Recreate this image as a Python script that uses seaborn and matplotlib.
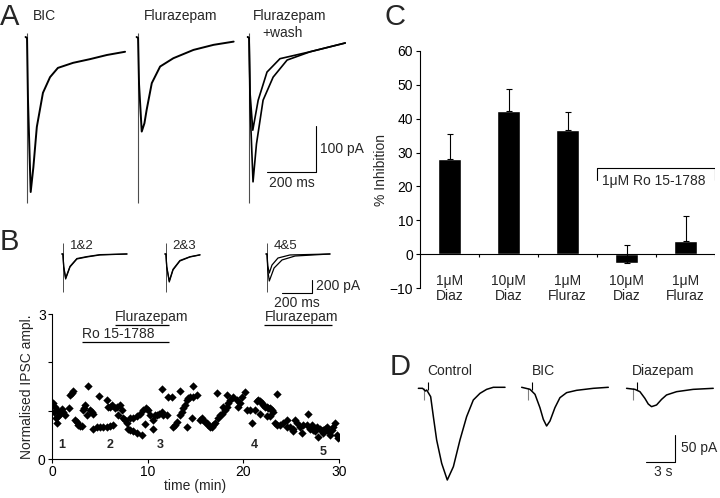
import numpy as np
import pandas as pd
import matplotlib
matplotlib.use("Agg")
import matplotlib.pyplot as plt
import seaborn as sns

sns.set_theme(style="ticks")
plt.rcParams["font.family"] = ["Liberation Sans", "DejaVu Sans"]
plt.rcParams["axes.edgecolor"] = "black"
plt.rcParams["xtick.color"] = "black"
plt.rcParams["ytick.color"] = "black"

# ─── Panel A: evoked IPSCs (time in ms, current in pA) ───────────────────────
A_BIC_T   = [-6, 0, 4, 15, 26, 40, 65, 94, 126, 188, 257, 326, 400]
A_BIC_I   = [2, 0, -135, -334, -280, -193, -119, -85, -65, -54, -46, -37, -30]
A_FLU_T   = [-6, 0, 4, 15, 26, 35, 56, 90, 144, 226, 308, 390]
A_FLU_I   = [2, 0, -100, -203, -185, -156, -98, -62, -44, -26, -15, -8]
A_WASH_T  = [-6, 0, 4, 16, 30, 57, 98, 155, 249, 392]
A_WASH_I  = [2, 0, -150, -312, -230, -135, -85, -48, -30, -11]
A_FLU2_T  = [-6, 0, 4, 15, 37, 73, 126, 249, 392]
A_FLU2_I  = [2, 0, -120, -200, -135, -74, -45, -30, -11]
A_TITLES  = ["BIC", "Flurazepam", "Flurazepam"]

# ─── Panel B: example traces (ms, pA) and time course ────────────────────────
B12_T  = [-7, 0, 5, 18, 47, 93, 160, 247, 427]
B12_I  = [0, 0, -200, -385, -200, -77, -46, -15, 0]
B12B_I = [0, 0, -190, -370, -190, -70, -40, -10, 0]
B23_T  = [-7, 0, 5, 22, 47, 93, 160, 227]
B23_I  = [0, 0, -200, -431, -246, -108, -46, -15]
B23B_I = [0, 0, -190, -415, -235, -100, -42, -12]
B45_T  = [-7, 0, 5, 15, 47, 100, 187, 420]
B45_I  = [0, 0, -250, -416, -216, -92, -31, 0]
B45B_T = [-7, 0, 5, 15, 33, 73, 153, 420]
B45B_I = [0, 0, -180, -293, -170, -62, -15, 0]
B_TRACE_LABELS = ["1&2", "2&3", "4&5"]

B_TIME = [0.14, 0.31, 0.21, 0.49, 0.66, 0.84, 1.01, 1.18, 1.36, 0.42,
          0.56, 1.88, 2.06, 2.23, 1.81, 2.40, 2.58, 2.75, 2.93, 3.10,
          3.21, 3.34, 3.45, 3.62, 3.80, 3.97, 4.15, 4.32, 4.32, 4.67,
          5.02, 5.37, 5.71, 6.06, 6.41, 4.95, 5.71, 5.89, 6.06, 6.24,
          6.59, 6.76, 7.11, 6.93, 7.28, 7.46, 7.63, 7.80, 7.98, 8.15,
          8.50, 8.85, 9.37, 8.15, 8.50, 8.85, 9.20, 9.55, 9.83, 10.07,
          10.24, 10.59, 10.77, 10.94, 11.22, 11.46, 11.64, 11.99, 9.72, 10.59,
          11.46, 12.16, 12.51, 12.68, 12.86, 13.03, 13.38, 13.55, 13.73, 13.90,
          14.08, 14.25, 14.43, 14.77, 15.12, 14.70, 13.38, 14.08, 14.60, 15.47,
          15.64, 15.82, 15.99, 16.17, 16.34, 16.52, 16.69, 16.86, 17.04, 17.39,
          17.56, 17.74, 17.91, 18.08, 18.26, 18.43, 18.61, 18.95, 19.30, 19.48,
          19.65, 19.83, 20.17, 20.35, 20.70, 21.22, 20.87, 17.21, 18.26, 21.39,
          21.57, 21.74, 21.92, 22.09, 22.26, 22.44, 22.61, 22.79, 22.96, 23.14,
          23.48, 21.74, 22.44, 22.79, 23.31, 23.48, 23.83, 24.18, 24.53, 24.88,
          25.23, 25.40, 25.57, 25.92, 26.27, 26.62, 26.79, 26.97, 27.32, 27.49,
          27.67, 28.01, 28.19, 28.36, 28.54, 28.71, 28.89, 29.06, 29.23, 29.41,
          29.58, 29.76, 29.93, 24.53, 25.23, 26.10, 27.14, 27.84, 28.36]
B_AMPL = [1.15, 1.08, 0.98, 1.01, 0.88, 0.93, 1.03, 0.98, 0.91, 0.84,
          0.74, 1.32, 1.37, 1.41, 1.05, 0.81, 0.77, 0.70, 0.68, 0.68,
          1.01, 1.05, 1.12, 0.91, 1.51, 1.01, 0.98, 0.94, 0.63, 0.66,
          0.67, 0.67, 0.67, 0.68, 0.70, 1.31, 1.22, 1.08, 1.08, 1.12,
          1.05, 1.08, 1.12, 0.91, 1.01, 0.84, 0.81, 0.74, 0.63, 0.61,
          0.57, 0.53, 0.50, 0.84, 0.84, 0.88, 0.94, 1.01, 1.05, 1.01,
          0.91, 0.81, 0.91, 0.91, 0.94, 0.98, 0.91, 0.91, 0.72, 0.63,
          1.44, 1.29, 1.29, 0.67, 0.70, 0.77, 0.91, 0.98, 1.05, 1.12,
          1.22, 1.26, 1.29, 1.29, 1.32, 1.51, 1.41, 0.67, 0.84, 0.81,
          0.84, 0.81, 0.77, 0.74, 0.70, 0.67, 0.67, 0.70, 0.74, 0.84,
          0.91, 0.94, 1.08, 1.01, 1.08, 1.15, 1.22, 1.29, 1.22, 1.08,
          1.15, 1.29, 1.39, 1.01, 1.01, 1.01, 0.74, 1.36, 1.32, 1.19,
          1.22, 1.19, 1.15, 1.12, 1.08, 1.08, 1.05, 1.05, 1.01, 0.98,
          1.34, 0.94, 0.88, 0.88, 0.74, 0.70, 0.70, 0.74, 0.67, 0.67,
          0.63, 0.81, 0.74, 0.67, 0.70, 0.70, 0.94, 0.63, 0.60, 0.57,
          0.67, 0.63, 0.57, 0.53, 0.63, 0.67, 0.57, 0.50, 0.60, 0.67,
          0.74, 0.50, 0.43, 0.81, 0.57, 0.53, 0.70, 0.46, 0.60]
B_SAMPLE_T = [1.0, 6.1, 11.3, 21.1, 28.3]
B_SAMPLE_Y = [0.30, 0.30, 0.30, 0.30, 0.14]
B_DRUGS    = [("Flurazepam", 6.6, 12.2, 2.78),
              ("Ro 15-1788", 3.1, 12.2, 2.42),
              ("Flurazepam", 22.2, 29.3, 2.78)]

# ─── Panel C: % inhibition ───────────────────────────────────────────────────
C_LABELS = ["1μM\nDiaz", "10μM\nDiaz", "1μM\nFluraz", "10μM\nDiaz", "1μM\nFluraz"]
C_MEAN   = [28.2, 42.1, 36.7, -2.5, 3.9]
C_SEM    = [7.2, 6.5, 5.1, 5.2, 7.5]

# ─── Panel D: slow IPSCs (s, pA) ─────────────────────────────────────────────
D_CTRL_T = [-1.03, -0.6, -0.3, -0.17, 0.24, 0.52, 0.86, 1.38, 1.96, 2.59,
            3.27, 3.96, 4.65, 5.34, 6.03, 6.72, 7.93]
D_CTRL_I = [0, 0, -5, -3.1, -15.4, -52.4, -95.6, -138.8, -169.6, -144.9,
            -95.6, -52.4, -21.6, -9.3, -1.9, 1.9, 1.9]
D_BIC_T  = [-1.10, -0.24, 0.28, 0.79, 1.14, 1.48, 1.83, 2.34, 2.86, 3.55, 4.58, 6.31, 7.86]
D_BIC_I  = [1.9, -1.8, -11.1, -35.8, -57.4, -69.7, -60.4, -35.8, -17.3, -8.0, -3.7, 0, 1.9]
D_DIAZ_T = [-1.10, -0.24, 0.28, 0.79, 1.14, 1.48, 2.00, 2.52, 3.03, 4.07, 5.79, 7.86]
D_DIAZ_I = [0, -1.9, -6.2, -18.5, -29.0, -33.9, -30.8, -20.4, -12.3, -6.2, -1.9, 0]
D_TITLES = ["Control", "BIC", "Diazepam"]

W, H = 720, 498


def box(x0, y0, x1, y1):
    # pixel box (y from top) -> figure fraction rect
    return [x0 / W, 1 - y1 / H, (x1 - x0) / W, (y1 - y0) / H]


def trace(ax, t, i, off, lw=1.1):
    sns.lineplot(x=np.asarray(t) + off, y=i, ax=ax, color="black",
                 lw=lw, sort=False, estimator=None)


fig = plt.figure(figsize=(7.2, 4.98), dpi=100)

# panel letters
for lab, x, y in [("A", 0, 25), ("B", 0, 250), ("C", 385, 25), ("D", 390, 375)]:
    fig.text(x / W, 1 - y / H, lab, fontsize=21, va="baseline", ha="left")

# ─── A ───────────────────────────────────────────────────────────────────────
axA = fig.add_axes(box(15, 25, 355, 210))
A_OFF = [0, 453, 906]
for off in A_OFF:
    axA.vlines(off, -358, 11, color="0.3", lw=0.8)
trace(axA, A_BIC_T, A_BIC_I, A_OFF[0], 1.4)
trace(axA, A_FLU_T, A_FLU_I, A_OFF[1], 1.4)
trace(axA, A_WASH_T, A_WASH_I, A_OFF[2], 1.2)
trace(axA, A_FLU2_T, A_FLU2_I, A_OFF[2], 1.2)
axA.set_xlim(-49, 1338)
axA.set_ylim(-373, 28)
axA.axis("off")
for title, x in zip(A_TITLES, [33, 144, 253]):
    fig.text(x / W, 1 - 20 / H, title, fontsize=10, va="baseline", ha="left")
fig.text(262 / W, 1 - 37 / H, "+wash", fontsize=10, va="baseline", ha="left")
# scale bar 200 ms / 100 pA
axA.plot([979, 1179, 1179], [-291, -291, -191], color="black", lw=0.8)
axA.text(1195, -241, "100 pA", fontsize=10, va="center", ha="left")
axA.text(1079, -300, "200 ms", fontsize=10, va="top", ha="center")

# ─── B traces ────────────────────────────────────────────────────────────────
axBt = fig.add_axes(box(55, 238, 345, 305))
B_OFF = [0, 687, 1361]
for off in B_OFF:
    axBt.vlines(off, -585, 169, color="0.3", lw=0.7)
trace(axBt, B12_T, B12_I, B_OFF[0], 0.9)
trace(axBt, B12_T, B12B_I, B_OFF[0], 0.9)
trace(axBt, B23_T, B23_I, B_OFF[1], 0.9)
trace(axBt, B23_T, B23B_I, B_OFF[1], 0.9)
trace(axBt, B45_T, B45_I, B_OFF[2], 0.9)
trace(axBt, B45B_T, B45B_I, B_OFF[2], 0.9)
axBt.set_xlim(-53, 1881)
axBt.set_ylim(-785, 246)
axBt.axis("off")
for lab, off in zip(B_TRACE_LABELS, B_OFF):
    axBt.text(off + 45, 80, lab, fontsize=9.5, va="baseline", ha="left")
axBt.plot([1461, 1661, 1661], [-601, -601, -400], color="black", lw=0.8)
axBt.text(1688, -500, "200 pA", fontsize=10, va="center", ha="left")
axBt.text(1561, -640, "200 ms", fontsize=10, va="top", ha="center")

# ─── B time course ───────────────────────────────────────────────────────────
axB = fig.add_axes(box(52, 314, 339, 459))
df_b = pd.DataFrame({"time": B_TIME, "ampl": B_AMPL})
sns.scatterplot(data=df_b, x="time", y="ampl", marker="D", color="black",
                s=18, linewidth=0, ax=axB)
axB.set_xlim(0, 30)
axB.set_ylim(0, 3)
axB.set_xticks([0, 10, 20, 30])
axB.set_yticks([0, 1, 2, 3])
axB.set_yticklabels(["0", "", "", "3"])
axB.tick_params(labelsize=10, length=3, width=0.8, pad=1.5)
axB.set_xlabel("time (min)", fontsize=10, labelpad=0)
axB.set_ylabel("Normalised IPSC ampl.", fontsize=10, labelpad=3)
sns.despine(ax=axB)
for sp in ["left", "bottom"]:
    axB.spines[sp].set_linewidth(0.8)
for k, (t, y) in enumerate(zip(B_SAMPLE_T, B_SAMPLE_Y), 1):
    axB.text(t, y, str(k), fontsize=9, fontweight="bold", ha="center", va="center")
for name, t0, t1, y in B_DRUGS:
    axB.hlines(y, t0, t1, color="black", lw=0.9)
    axB.text(t0, y + 0.02, name, fontsize=10, ha="left", va="bottom")

# ─── C ───────────────────────────────────────────────────────────────────────
axC = fig.add_axes(box(420, 50.7, 715, 288.3))
df_c = pd.DataFrame({"pos": range(len(C_MEAN)), "inhibition": C_MEAN})
sns.barplot(data=df_c, x="pos", y="inhibition", color="black", saturation=1,
            width=0.39, ax=axC)
axC.errorbar(df_c["pos"], C_MEAN, yerr=[np.zeros(len(C_SEM)), C_SEM],
             fmt="none", ecolor="black", elinewidth=0.8, capsize=2, capthick=0.8)
axC.set_xlim(-0.5, 4.5)
axC.set_ylim(-10, 60)
axC.set_yticks(range(-10, 61, 10))
axC.tick_params(axis="y", labelsize=10, length=3, width=0.8, pad=2)
axC.set_xticks([])
axC.set_xlabel("")
axC.set_ylabel("% Inhibition", fontsize=10, labelpad=1)
sns.despine(ax=axC, bottom=True)
axC.spines["left"].set_linewidth(0.8)
axC.axhline(0, color="black", lw=0.8)
axC.vlines([0.5, 1.5, 2.5, 3.5, 4.5], -0.9, 0, color="black", lw=0.8)
for k, lab in enumerate(C_LABELS):
    axC.text(k, -5.9, lab, fontsize=10, ha="center", va="top", linespacing=1.1)
axC.plot([2.5, 2.5, 4.5, 4.5], [21.9, 25.4, 25.4, 21.9], color="black", lw=0.8)
axC.text(3.47, 21.6, "1μM Ro 15-1788", fontsize=10, ha="center", va="center")

# ─── D ───────────────────────────────────────────────────────────────────────
axD = fig.add_axes(box(400, 370, 720, 490))
D_OFF = [0, 10.75, 21.6]
for off in D_OFF:
    axD.vlines(off - 0.45, -21, 0, color="0.5", lw=0.8)
    axD.vlines(off, -3, 11, color="black", lw=0.8)
trace(axD, D_CTRL_T, D_CTRL_I, D_OFF[0], 1.1)
trace(axD, D_BIC_T, D_BIC_I, D_OFF[1], 1.1)
trace(axD, D_DIAZ_T, D_DIAZ_I, D_OFF[2], 1.1)
axD.set_xlim(-2.93, 30.16)
axD.set_ylim(-188.1, 33.9)
axD.axis("off")
for title, x in zip(D_TITLES, [427, 532, 632]):
    fig.text(x / W, 1 - 375 / H, title, fontsize=10, va="baseline", ha="left")
axD.plot([22.5, 25.5, 25.5], [-136.3, -136.3, -86.4], color="black", lw=0.8)
axD.text(26.1, -111, "50 pA", fontsize=10, va="center", ha="left")
axD.text(24.3, -142, "3 s", fontsize=10, va="top", ha="center")

fig.savefig("out.png", dpi=100)
